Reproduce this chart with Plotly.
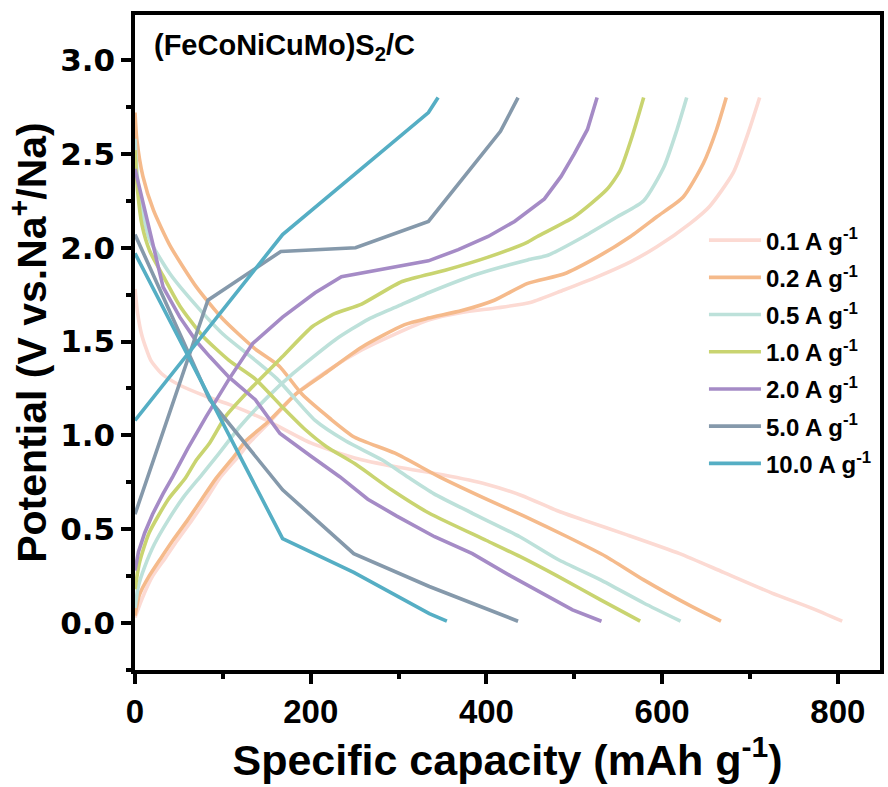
import plotly.graph_objects as go

# ---------------- data ----------------
rates = ["0.1 A g<sup>-1</sup>", "0.2 A g<sup>-1</sup>", "0.5 A g<sup>-1</sup>", "1.0 A g<sup>-1</sup>",
         "2.0 A g<sup>-1</sup>", "5.0 A g<sup>-1</sup>", "10.0 A g<sup>-1</sup>"]
colors = ["#FCDAD3", "#F5BA8B", "#BDE1DA", "#C9D470", "#A58BC6", "#8599AB", "#55AEC4"]
shapes_ = ["spline", "spline", "spline", "spline", "linear", "linear", "linear"]

# discharge curves (capacity, potential)
dis01_x = [0, 3, 8, 18, 30, 50, 80, 110, 150, 200, 250, 300, 350, 400, 440, 480, 510, 560, 620, 670, 725, 770, 805]
dis01_y = [1.78, 1.65, 1.53, 1.40, 1.33, 1.27, 1.21, 1.16, 1.08, 0.96, 0.88, 0.83, 0.79, 0.74, 0.68, 0.60, 0.55, 0.47, 0.37, 0.27, 0.16, 0.08, 0.01]
dis02_x = [0, 2, 9, 21, 40, 70, 100, 137, 164, 190, 222, 250, 296, 346, 400, 443, 492, 536, 579, 633, 667]
dis02_y = [2.72, 2.58, 2.38, 2.20, 2.01, 1.79, 1.62, 1.46, 1.37, 1.22, 1.09, 0.99, 0.905, 0.78, 0.66, 0.57, 0.46, 0.355, 0.23, 0.09, 0.01]
dis05_x = [0, 3, 8, 17, 40, 70, 100, 137, 162, 205, 240, 281, 310, 340, 384, 438, 481, 530, 579, 621]
dis05_y = [2.58, 2.36, 2.20, 2.04, 1.86, 1.69, 1.54, 1.40, 1.30, 1.08, 0.97, 0.87, 0.78, 0.69, 0.585, 0.46, 0.34, 0.23, 0.107, 0.01]
dis10_x = [0, 3, 8, 17, 32, 51, 77, 107, 137, 168, 194, 218, 250, 292, 335, 400, 438, 481, 530, 575]
dis10_y = [2.52, 2.30, 2.12, 1.98, 1.85, 1.69, 1.53, 1.40, 1.30, 1.15, 1.03, 0.94, 0.85, 0.71, 0.585, 0.44, 0.355, 0.25, 0.124, 0.01]
dis20_x = [0, 32, 51, 70, 85, 107, 137, 165, 200, 233, 265, 298, 341, 384, 428, 471, 498, 531]
dis20_y = [2.42, 1.79, 1.63, 1.50, 1.42, 1.31, 1.19, 1.01, 0.89, 0.78, 0.66, 0.57, 0.46, 0.37, 0.25, 0.14, 0.07, 0.01]
dis50_x = [0, 85, 168, 249, 335, 436]
dis50_y = [2.07, 1.19, 0.71, 0.37, 0.195, 0.01]
dis100_x = [0, 168, 249, 335, 355]
dis100_y = [1.97, 0.45, 0.27, 0.05, 0.01]

# charge curves (capacity, potential)
chg01_x = [0, 8, 20, 35, 48, 65, 81, 96, 118, 130, 155, 183, 221, 258, 296, 334, 372, 413, 451, 488, 526, 564, 594, 632, 654, 681, 700, 711]
chg01_y = [0.03, 0.13, 0.25, 0.35, 0.44, 0.55, 0.66, 0.77, 0.89, 0.96, 1.08, 1.22, 1.35, 1.455, 1.54, 1.615, 1.655, 1.68, 1.71, 1.775, 1.845, 1.925, 2.005, 2.13, 2.22, 2.40, 2.64, 2.80]
chg02_x = [0, 5, 16, 30, 43, 60, 76, 92, 113, 126, 151, 183, 216, 258, 307, 334, 372, 409, 447, 488, 526, 564, 594, 624, 647, 662, 673]
chg02_y = [0.04, 0.15, 0.25, 0.35, 0.44, 0.55, 0.66, 0.77, 0.89, 0.97, 1.07, 1.22, 1.33, 1.47, 1.59, 1.625, 1.665, 1.72, 1.81, 1.86, 1.95, 2.06, 2.165, 2.27, 2.45, 2.63, 2.80]
chg05_x = [0, 4, 11, 22, 38, 55, 76, 95, 120, 150, 180, 228, 266, 300, 334, 390, 447, 470, 511, 549, 579, 602, 617, 628]
chg05_y = [0.08, 0.20, 0.30, 0.42, 0.55, 0.67, 0.79, 0.90, 1.05, 1.20, 1.33, 1.51, 1.62, 1.69, 1.76, 1.86, 1.935, 1.96, 2.06, 2.165, 2.25, 2.43, 2.63, 2.80]
chg10_x = [0, 5, 16, 38, 57, 70, 85, 103, 134, 168, 202, 228, 258, 304, 353, 402, 447, 458, 500, 537, 552, 567, 579]
chg10_y = [0.18, 0.32, 0.48, 0.66, 0.77, 0.87, 0.96, 1.10, 1.26, 1.42, 1.58, 1.65, 1.70, 1.82, 1.88, 1.95, 2.03, 2.06, 2.165, 2.31, 2.41, 2.61, 2.80]
chg20_x = [0, 4, 11, 20, 32, 43, 60, 81, 107, 134, 168, 205, 235, 277, 334, 368, 402, 432, 466, 485, 500, 515, 526]
chg20_y = [0.28, 0.38, 0.48, 0.58, 0.69, 0.78, 0.93, 1.10, 1.30, 1.49, 1.63, 1.76, 1.845, 1.88, 1.93, 1.99, 2.06, 2.14, 2.26, 2.38, 2.50, 2.63, 2.80]
chg50_x = [0, 83, 166, 251, 334, 416, 436]
chg50_y = [0.58, 1.72, 1.98, 2.00, 2.14, 2.62, 2.80]
chg100_x = [0, 168, 334, 345]
chg100_y = [1.08, 2.07, 2.72, 2.80]

discharge = [(dis01_x, dis01_y), (dis02_x, dis02_y), (dis05_x, dis05_y), (dis10_x, dis10_y),
             (dis20_x, dis20_y), (dis50_x, dis50_y), (dis100_x, dis100_y)]
charge = [(chg01_x, chg01_y), (chg02_x, chg02_y), (chg05_x, chg05_y), (chg10_x, chg10_y),
          (chg20_x, chg20_y), (chg50_x, chg50_y), (chg100_x, chg100_y)]

x_ticks = [0, 200, 400, 600, 800]
y_ticks = [0.0, 0.5, 1.0, 1.5, 2.0, 2.5, 3.0]

# ---------------- figure ----------------
fig = go.Figure()
for i, name in enumerate(rates):
    for j, (cx, cy) in enumerate([discharge[i], charge[i]]):
        fig.add_trace(go.Scatter(
            x=cx, y=cy, mode="lines", name=name,
            legendgroup=f"g{i}", showlegend=(j == 0),
            line=dict(color=colors[i], width=3.6, shape=shapes_[i], smoothing=0.6),
        ))

axis_common = dict(
    showgrid=False, zeroline=False, showline=True, linecolor="black", linewidth=3.5,
    mirror=True, ticks="outside", ticklen=10, tickwidth=3.5, tickcolor="black",
)

fig.update_layout(
    width=888, height=787,
    margin=dict(l=135, r=4, t=15, b=117),
    paper_bgcolor="white", plot_bgcolor="white",
    font=dict(family="Liberation Sans, Arial, sans-serif", color="black"),
    xaxis=dict(
        range=[0, 848], tickvals=x_ticks, ticktext=[str(v) for v in x_ticks],
        tickfont=dict(family="Liberation Sans, Arial", size=33, weight=700),
        minor=dict(ticks="outside", dtick=100, tick0=0, ticklen=5, tickwidth=3.5, tickcolor="black"),
        title=dict(text="Specific capacity (mAh g<sup>-1</sup>)",
                   font=dict(family="Liberation Sans, Arial", size=43, weight=700), standoff=0),
        **axis_common,
    ),
    yaxis=dict(
        range=[-0.25, 3.24], tickvals=y_ticks, ticktext=[f"{v:.1f}" for v in y_ticks],
        tickfont=dict(family="DejaVu Sans", size=31, weight=700),
        minor=dict(ticks="outside", dtick=0.25, tick0=0, ticklen=5, tickwidth=3.5, tickcolor="black"),
        title=dict(text="Potential (V vs.Na<sup>+</sup>/Na)",
                   font=dict(family="Liberation Sans, Arial", size=41, weight=700), standoff=2),
        **axis_common,
    ),
    legend=dict(
        x=0.7637, xanchor="left", y=0.69, yanchor="top",
        font=dict(family="Liberation Sans, Arial", size=24, weight=700),
        bgcolor="rgba(0,0,0,0)", itemwidth=52, tracegroupgap=3, traceorder="grouped",
    ),
    annotations=[dict(
        text="(FeCoNiCuMo)S<sub>2</sub>/C", xref="paper", yref="paper",
        x=(152 - 135) / 749, y=(670 - 47) / 655, xanchor="left", yanchor="middle",
        showarrow=False, font=dict(family="Liberation Sans, Arial", size=29, weight=700),
    )],
)

fig.write_html("out.html")
